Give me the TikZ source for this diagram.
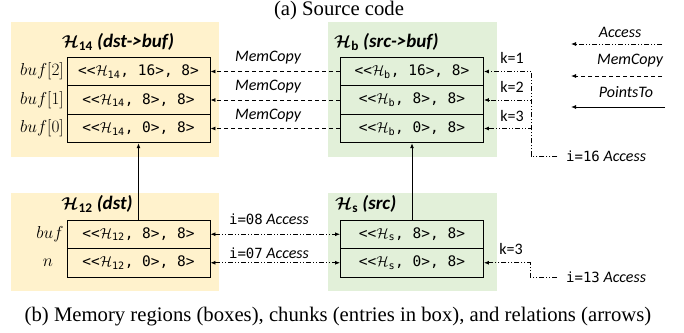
\documentclass[tikz,border=0pt]{standalone}
\usepackage{amsmath}
\usepackage{fontspec}
\usepackage{bm}
\setmainfont{Liberation Serif}
\setsansfont{Carlito}
\setmonofont{DejaVu Sans Mono}
\usetikzlibrary{arrows.meta}

\definecolor{regyellow}{RGB}{255,242,204}
\definecolor{reggreen}{RGB}{226,240,217}

\tikzset{
  regionbox/.style={draw=none, inner sep=0pt, minimum width=208pt, minimum height=135pt},
  regionlow/.style={regionbox, minimum height=98pt},
  chunk/.style={draw, line width=0.9pt, minimum width=143pt, minimum height=28.5pt,
    inner sep=0pt, font=\fontsize{14.5}{16}\ttfamily},
  regtitle/.style={inner sep=0pt, font=\fontsize{19}{21}\sffamily\bfseries\itshape},
  rowlbl/.style={inner sep=0pt, font=\fontsize{16}{18}\selectfont},
  rellbl/.style={inner sep=0pt, font=\fontsize{16}{18}\sffamily\itshape},
  klbl/.style={inner sep=0pt, font=\fontsize{16}{18}\sffamily},
  captext/.style={inner sep=0pt, font=\fontsize{20.7}{23}\rmfamily},
  headtip/.style={-{Latex[length=5pt,width=4pt]}},
  bothtips/.style={{Latex[length=5pt,width=4pt]}-{Latex[length=5pt,width=4pt]}},
  accessline/.style={line width=0.8pt,
    dash pattern=on 5pt off 2pt on 1pt off 2pt on 1pt off 2pt},
  memline/.style={line width=0.8pt, dash pattern=on 4pt off 3pt, headtip},
  ptline/.style={line width=0.9pt, headtip},
}

\newcommand{\hcell}[3]{<<$\mathcal{H}_{\texttt{#1}}$, #2>, #3>}
\newcommand{\htitle}[1]{$\bm{\mathcal{H}}_{\textbf{\textup{#1}}}$}
\newcommand{\idx}[1]{{\upshape\ttfamily\fontsize{14}{16}\selectfont #1}}

\begin{document}
\begin{tikzpicture}[x=1pt,y=-1pt]
\useasboundingbox (0,0) rectangle (684,332);

% captions
\node[captext] (capa) at (339,11) {(a) Source code};
\node[captext] (capb) at (338,317) {(b) Memory regions (boxes), chunks (entries in box), and relations (arrows)};

% memory regions
\node[regionbox, fill=regyellow] (r14) at (115,89.5) {};
\node[regionbox, fill=reggreen, minimum width=169pt] (rb) at (412.5,89.5) {};
\node[regionlow, fill=regyellow] (r12) at (115,242) {};
\node[regionlow, fill=reggreen, minimum width=169pt] (rs) at (412.5,242) {};

% region titles
\node[regtitle] (t14) at (118,42) {\htitle{14} (dst->buf)};
\node[regtitle, anchor=west] (tb) at (334,42) {\htitle{b} (src->buf)};
\node[regtitle] (t12) at (97,204) {\htitle{12} (dst)};
\node[regtitle, anchor=west] (ts) at (335,204) {\htitle{s} (src)};

% chunks of H14
\node[chunk] (c14a) at (138.5,71.5) {\hcell{14}{16}{8}};
\node[chunk] (c14b) at (138.5,100) {\hcell{14}{8}{8}};
\node[chunk] (c14c) at (138.5,128.5) {\hcell{14}{0}{8}};
\node[rowlbl] (l14a) at (42,71.5) {$buf[2]$};
\node[rowlbl] (l14b) at (42,100) {$buf[1]$};
\node[rowlbl] (l14c) at (42,128.5) {$buf[0]$};

% chunks of Hb
\node[chunk] (cba) at (412,71.5) {\hcell{b}{16}{8}};
\node[chunk] (cbb) at (412,100) {\hcell{b}{8}{8}};
\node[chunk] (cbc) at (412,128.5) {\hcell{b}{0}{8}};

% chunks of H12
\node[chunk] (c12a) at (138.5,234.25) {\hcell{12}{8}{8}};
\node[chunk] (c12b) at (138.5,262.75) {\hcell{12}{0}{8}};
\node[rowlbl] (l12a) at (50,234.25) {$buf$};
\node[rowlbl] (l12b) at (48,262.75) {$n$};

% chunks of Hs
\node[chunk] (csa) at (412,234.25) {\hcell{s}{8}{8}};
\node[chunk] (csb) at (412,262.75) {\hcell{s}{0}{8}};

% PointsTo
\draw[ptline] (c12a.north) -- (c14c.south);
\draw[ptline] (csa.north) -- (cbc.south);

% MemCopy
\draw[memline] (cba.west) -- (c14a.east);
\draw[memline] (cbb.west) -- (c14b.east);
\draw[memline] (cbc.west) -- (c14c.east);
\node[rellbl] (m1) at (268,58) {MemCopy};
\node[rellbl] (m2) at (268,87) {MemCopy};
\node[rellbl] (m3) at (268,116) {MemCopy};

% Access between H12 and Hs
\draw[accessline, bothtips] (c12a.east) -- (csa.west);
\draw[accessline, bothtips] (c12b.east) -- (csb.west);
\node[rellbl] (a08) at (269,219) {\idx{i=08}~Access};
\node[rellbl] (a07) at (269,253) {\idx{i=07}~Access};

% Access i=16 fanning out to Hb
\coordinate (s16) at (557,156);
\coordinate (j16) at (531,156);
\draw[accessline, headtip] (s16) -- (j16) |- (cba.east);
\draw[accessline, headtip] (s16) -- (j16) |- (cbb.east);
\draw[accessline, headtip] (s16) -- (j16) |- (cbc.east);
\node[rellbl, anchor=west] (a16) at (566,156) {\idx{i=16}~Access};
\node[klbl] (k1) at (512,58) {k=1};
\node[klbl] (k2) at (512,87) {k=2};
\node[klbl] (k3) at (512,116) {k=3};

% Access i=13 to Hs
\coordinate (s13) at (557,277);
\coordinate (j13) at (530,277);
\draw[accessline, headtip] (s13) -- (j13) |- (csb.east);
\node[rellbl, anchor=west] (a13) at (566,277) {\idx{i=13}~Access};
\node[klbl] (k4) at (511,249) {k=3};

% legend
\coordinate (ga1) at (662,44);  \coordinate (ga2) at (571,44);
\coordinate (gm1) at (662,76);  \coordinate (gm2) at (571,76);
\coordinate (gp1) at (665,107); \coordinate (gp2) at (571,107);
\draw[accessline, headtip] (ga1) -- (ga2);
\draw[memline] (gm1) -- (gm2);
\draw[ptline] (gp1) -- (gp2);
\node[rellbl] (ga) at (620,32) {Access};
\node[rellbl] (gm) at (630,61) {MemCopy};
\node[rellbl] (gp) at (626,92) {PointsTo};
\end{tikzpicture}
\end{document}
